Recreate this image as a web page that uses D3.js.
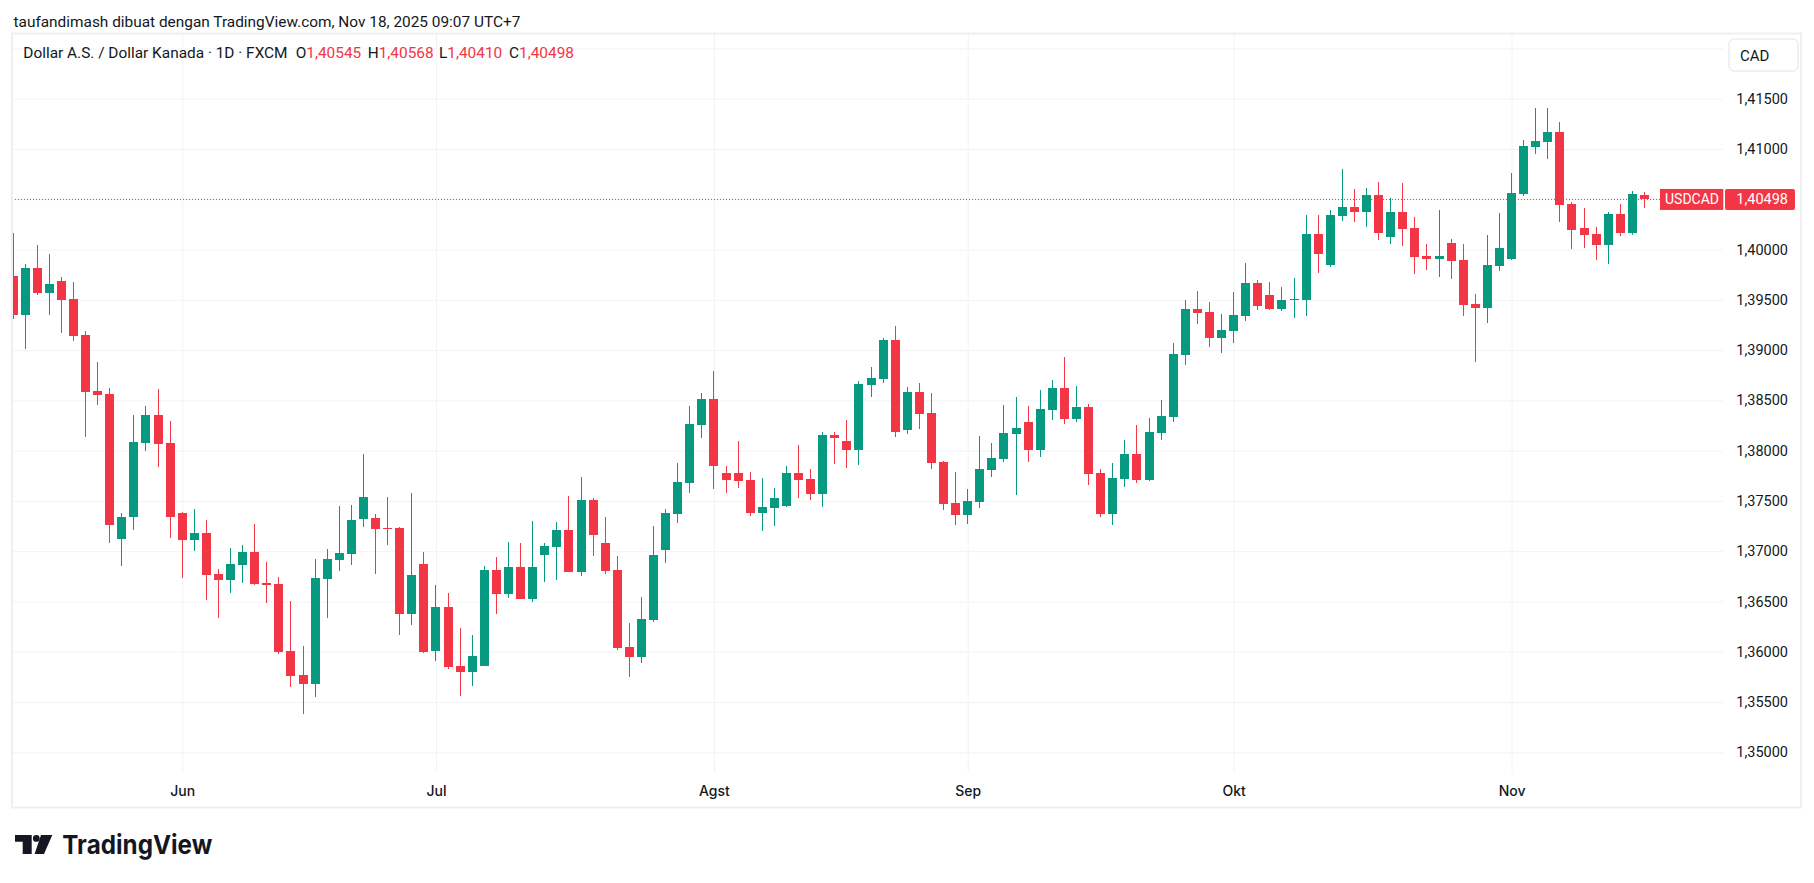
<!DOCTYPE html>
<html>
<head>
<meta charset="utf-8">
<script src="https://cdn.jsdelivr.net/npm/d3@7"></script>
<style>
  html, body { margin: 0; padding: 0; background: #ffffff; }
  svg { display: block; font-family: Roboto, "Noto Sans", sans-serif; }
</style>
</head>
<body>
<svg id="chart"></svg>
<script>
// ---- data: USD/CAD daily, FXCM ----
const dates = [
  "2025-05-13","2025-05-14","2025-05-15","2025-05-16","2025-05-19","2025-05-20","2025-05-21","2025-05-22","2025-05-23",
  "2025-05-26","2025-05-27","2025-05-28","2025-05-29","2025-05-30",
  "2025-06-02","2025-06-03","2025-06-04","2025-06-05","2025-06-06","2025-06-09","2025-06-10","2025-06-11","2025-06-12",
  "2025-06-13","2025-06-16","2025-06-17","2025-06-18","2025-06-19","2025-06-20","2025-06-23","2025-06-24","2025-06-25",
  "2025-06-26","2025-06-27","2025-06-30",
  "2025-07-01","2025-07-02","2025-07-03","2025-07-04","2025-07-07","2025-07-08","2025-07-09","2025-07-10","2025-07-11",
  "2025-07-14","2025-07-15","2025-07-16","2025-07-17","2025-07-18","2025-07-21","2025-07-22","2025-07-23","2025-07-24",
  "2025-07-25","2025-07-28","2025-07-29","2025-07-30","2025-07-31",
  "2025-08-01","2025-08-04","2025-08-05","2025-08-06","2025-08-07","2025-08-08","2025-08-11","2025-08-12","2025-08-13",
  "2025-08-14","2025-08-15","2025-08-18","2025-08-19","2025-08-20","2025-08-21","2025-08-22","2025-08-25","2025-08-26",
  "2025-08-27","2025-08-28","2025-08-29",
  "2025-09-01","2025-09-02","2025-09-03","2025-09-04","2025-09-05","2025-09-08","2025-09-09","2025-09-10","2025-09-11",
  "2025-09-12","2025-09-15","2025-09-16","2025-09-17","2025-09-18","2025-09-19","2025-09-22","2025-09-23","2025-09-24",
  "2025-09-25","2025-09-26","2025-09-29","2025-09-30",
  "2025-10-01","2025-10-02","2025-10-03","2025-10-06","2025-10-07","2025-10-08","2025-10-09","2025-10-10","2025-10-13",
  "2025-10-14","2025-10-15","2025-10-16","2025-10-17","2025-10-20","2025-10-21","2025-10-22","2025-10-23","2025-10-24",
  "2025-10-27","2025-10-28","2025-10-29","2025-10-30","2025-10-31",
  "2025-11-03","2025-11-04","2025-11-05","2025-11-06","2025-11-07","2025-11-10","2025-11-11","2025-11-12","2025-11-13",
  "2025-11-14","2025-11-17","2025-11-18"
];

const open = [
  1.39734,1.39346,1.39814,1.39568,1.39685,1.39505,1.39147,1.38589,1.38559,1.37125,
  1.37337,1.38071,1.38350,1.38071,1.37384,1.37115,1.37185,1.36776,1.36716,1.36866,
  1.36995,1.36687,1.36677,1.36009,1.35770,1.35681,1.36726,1.36916,1.36975,1.37324,
  1.37334,1.37234,1.37234,1.36378,1.36876,1.36009,1.36448,1.35860,1.35800,1.35860,
  1.36816,1.36577,1.36844,1.36525,1.36963,1.37043,1.37212,1.36794,1.37511,1.37083,
  1.36814,1.36047,1.35948,1.36316,1.37013,1.37372,1.37681,1.38258,1.38517,1.37780,
  1.37780,1.37710,1.37382,1.37432,1.37452,1.37780,1.37720,1.37571,1.38159,1.38099,
  1.38009,1.38657,1.38716,1.39105,1.38208,1.38587,1.38378,1.37890,1.37481,1.37362,
  1.37491,1.37810,1.37920,1.38169,1.38280,1.38011,1.38400,1.38619,1.38310,1.38430,
  1.37782,1.37374,1.37722,1.37971,1.37703,1.38171,1.38330,1.38948,1.39406,1.39376,
  1.39117,1.39187,1.39336,1.39665,1.39545,1.39406,1.39495,1.39495,1.40153,1.39844,
  1.40332,1.40422,1.40372,1.40541,1.40123,1.40372,1.40212,1.39934,1.39904,1.40063,
  1.39894,1.39456,1.39416,1.39834,1.39904,1.40548,1.41016,1.41066,1.41165,1.40448,
  1.40209,1.40159,1.40040,1.40349,1.40169,1.40545
];

const high = [
  1.40166,1.39857,1.40043,1.39954,1.39724,1.39675,1.39187,1.38878,1.38619,1.37384,
  1.38350,1.38440,1.38609,1.38290,1.37390,1.37424,1.37314,1.36826,1.37035,1.37065,
  1.37274,1.36896,1.36746,1.36507,1.36059,1.36926,1.37025,1.37454,1.37463,1.37971,
  1.37374,1.37543,1.37240,1.37583,1.36995,1.36667,1.36587,1.36238,1.36169,1.36856,
  1.36946,1.37095,1.37083,1.37302,1.37083,1.37292,1.37551,1.37740,1.37531,1.37342,
  1.36954,1.36286,1.36545,1.37252,1.37422,1.37880,1.38448,1.38577,1.38796,1.37850,
  1.38099,1.37790,1.37730,1.37631,1.37850,1.38059,1.37820,1.38189,1.38189,1.38308,
  1.38697,1.38836,1.39125,1.39244,1.38637,1.38677,1.38577,1.37900,1.37790,1.37621,
  1.38149,1.38079,1.38458,1.38537,1.38440,1.38599,1.38699,1.38928,1.38639,1.38459,
  1.37822,1.37872,1.38101,1.38250,1.38320,1.38499,1.39067,1.39495,1.39585,1.39475,
  1.39356,1.39575,1.39864,1.39695,1.39675,1.39625,1.39714,1.40342,1.40342,1.40392,
  1.40800,1.40601,1.40611,1.40671,1.40511,1.40661,1.40322,1.40053,1.40392,1.40103,
  1.40053,1.39555,1.40143,1.40362,1.40760,1.41086,1.41404,1.41404,1.41265,1.40468,
  1.40408,1.40219,1.40378,1.40448,1.40578,1.40568
];

const low = [
  1.39306,1.39007,1.39545,1.39346,1.39167,1.39087,1.38131,1.38450,1.37085,1.36856,
  1.37214,1.38001,1.37842,1.37135,1.36736,1.37005,1.36517,1.36338,1.36587,1.36687,
  1.36667,1.36487,1.35979,1.35651,1.35382,1.35551,1.36338,1.36806,1.36866,1.37244,
  1.36776,1.37065,1.36169,1.36268,1.35989,1.35910,1.35830,1.35561,1.35661,1.35855,
  1.36378,1.36537,1.36520,1.36495,1.36695,1.36714,1.36790,1.36754,1.36954,1.36774,
  1.36017,1.35748,1.35888,1.36296,1.36884,1.37282,1.37581,1.38129,1.37621,1.37581,
  1.37631,1.37352,1.37203,1.37252,1.37442,1.37531,1.37511,1.37442,1.37870,1.37830,
  1.37859,1.38537,1.38677,1.38139,1.38169,1.38218,1.37820,1.37412,1.37262,1.37272,
  1.37432,1.37740,1.37890,1.37561,1.37882,1.37932,1.38300,1.38260,1.38280,1.37663,
  1.37344,1.37264,1.37643,1.37683,1.37700,1.38101,1.38280,1.38848,1.39256,1.39027,
  1.38967,1.39067,1.39286,1.39396,1.39400,1.39386,1.39316,1.39336,1.39764,1.39824,
  1.40282,1.40272,1.40222,1.40093,1.40053,1.40033,1.39754,1.39794,1.39724,1.39705,
  1.39336,1.38878,1.39266,1.39784,1.39900,1.40528,1.40946,1.40896,1.40269,1.40010,
  1.40020,1.39900,1.39851,1.40139,1.40149,1.40410
];

const close = [
  1.39346,1.39814,1.39568,1.39655,1.39495,1.39137,1.38579,1.38549,1.37258,1.37344,
  1.38081,1.38350,1.38061,1.37337,1.37115,1.37185,1.36766,1.36716,1.36876,1.36995,
  1.36677,1.36667,1.35999,1.35760,1.35681,1.36736,1.36926,1.36985,1.37314,1.37543,
  1.37224,1.37224,1.36378,1.36766,1.35999,1.36448,1.35850,1.35800,1.35959,1.36816,
  1.36577,1.36846,1.36525,1.36844,1.37053,1.37212,1.36794,1.37511,1.37163,1.36804,
  1.36037,1.35948,1.36326,1.36963,1.37382,1.37691,1.38268,1.38517,1.37850,1.37710,
  1.37701,1.37382,1.37442,1.37531,1.37780,1.37710,1.37571,1.38159,1.38129,1.38009,
  1.38667,1.38726,1.39105,1.38189,1.38587,1.38368,1.37880,1.37471,1.37362,1.37501,
  1.37820,1.37930,1.38179,1.38228,1.38011,1.38410,1.38619,1.38310,1.38430,1.37772,
  1.37374,1.37732,1.37971,1.37703,1.38181,1.38340,1.38958,1.39406,1.39366,1.39117,
  1.39197,1.39346,1.39665,1.39436,1.39406,1.39495,1.39505,1.40153,1.39954,1.40342,
  1.40422,1.40372,1.40541,1.40163,1.40372,1.40203,1.39924,1.39904,1.39934,1.39884,
  1.39446,1.39416,1.39844,1.40013,1.40561,1.41026,1.41076,1.41165,1.40438,1.40199,
  1.40149,1.40040,1.40349,1.40169,1.40548,1.40498
];

const monthTicks = ["2025-06-02","2025-07-01","2025-08-01","2025-09-01","2025-10-01","2025-11-03"];
const monthLabels = ["Jun","Jul","Agst","Sep","Okt","Nov"];
const priceTicks = [1.350,1.355,1.360,1.365,1.370,1.375,1.380,1.385,1.390,1.395,1.400,1.405,1.410,1.415];
const gridTicks = [...priceTicks, 1.420];

// ---- layout ----
const W = 1814, H = 883;
const frame = { left: 12, top: 33.5, right: 1801, bottom: 807.5 };
const plotRight = 1723;
const plotBottom = 772.5;

const up = "#089981", down = "#f23645";
const textColor = "#131722";
const gridColor = "#f0f3f6";

const locale = d3.formatLocale({ decimal: ",", thousands: ".", grouping: [3], currency: ["", ""] });
const fmt = locale.format(".5f");

const svg = d3.select("#chart").attr("width", W).attr("height", H);
svg.append("rect").attr("width", W).attr("height", H).attr("fill", "#ffffff");

const x = d3.scalePoint().domain(dates).range([13.0, 1644.5]);
const y = d3.scaleLinear().domain([1.35, 1.42]).range([752.3, 48.4]);

/* -------------------------
   GRID
-------------------------- */
const gridY = svg.append("g")
  .attr("transform", `translate(${frame.left},0)`)
  .call(d3.axisLeft(y).tickValues(gridTicks).tickSize(-(plotRight - frame.left)).tickFormat(""));
gridY.select(".domain").remove();
gridY.selectAll("line").attr("stroke", gridColor).attr("stroke-width", 1);

const gridX = svg.append("g")
  .attr("transform", `translate(0,${plotBottom})`)
  .call(d3.axisBottom(x).tickValues(monthTicks).tickSize(-(plotBottom - frame.top)).tickFormat(""));
gridX.select(".domain").remove();
gridX.selectAll("line").attr("stroke", gridColor).attr("stroke-width", 1);

/* -------------------------
   CANDLES
-------------------------- */
svg.append("clipPath").attr("id", "plotClip")
  .append("rect")
  .attr("x", frame.left + 0.5).attr("y", frame.top)
  .attr("width", plotRight - frame.left - 0.5).attr("height", plotBottom - frame.top);

const bars = dates.map((d, i) => ({ date: d, o: open[i], h: high[i], l: low[i], c: close[i] }));
const colorOf = d => (d.c >= d.o ? up : down);

const candles = svg.append("g").attr("clip-path", "url(#plotClip)");

candles.selectAll("rect.wick")
  .data(bars)
  .join("rect")
  .attr("class", "wick")
  .attr("x", d => x(d.date) - 0.5)
  .attr("width", 1)
  .attr("y", d => y(d.h))
  .attr("height", d => Math.max(1, y(d.l) - y(d.h)))
  .attr("fill", colorOf)
  .attr("shape-rendering", "crispEdges");

candles.selectAll("rect.body")
  .data(bars)
  .join("rect")
  .attr("class", "body")
  .attr("x", d => x(d.date) - 4.5)
  .attr("width", 9)
  .attr("y", d => y(Math.max(d.o, d.c)))
  .attr("height", d => Math.max(1, Math.abs(y(d.o) - y(d.c))))
  .attr("fill", colorOf)
  .attr("shape-rendering", "crispEdges");

// last price line
const last = bars[bars.length - 1];
svg.append("line")
  .attr("x1", frame.left).attr("x2", plotRight)
  .attr("y1", y(last.c)).attr("y2", y(last.c))
  .attr("stroke", down)
  .attr("stroke-width", 1)
  .attr("stroke-dasharray", "1,2");

/* -------------------------
   AXES
-------------------------- */
const yAxis = svg.append("g")
  .attr("transform", "translate(1788,0)")
  .call(d3.axisRight(y).tickValues(priceTicks).tickSize(0).tickFormat(fmt));
yAxis.select(".domain").remove();
yAxis.selectAll("text")
  .attr("x", 0)
  .attr("text-anchor", "end")
  .attr("fill", textColor)
  .style("font-family", "Roboto, sans-serif")
  .style("font-size", "14.5px");

const xAxis = svg.append("g")
  .attr("transform", `translate(0,${plotBottom})`)
  .call(d3.axisBottom(x).tickValues(monthTicks).tickSize(0)
    .tickFormat(d => monthLabels[monthTicks.indexOf(d)]));
xAxis.select(".domain").remove();
xAxis.selectAll("text")
  .attr("y", 23.3)
  .attr("dy", 0)
  .attr("fill", textColor)
  .style("font-family", "Inter, Roboto, sans-serif")
  .style("font-weight", 500)
  .style("font-size", "14px");

// currency box
svg.append("rect")
  .attr("x", 1729).attr("y", 39).attr("width", 69).attr("height", 32).attr("rx", 5)
  .attr("fill", "#ffffff").attr("stroke", "#e0e3eb").attr("stroke-width", 1);
svg.append("text")
  .attr("x", 1740).attr("y", 60.5)
  .attr("fill", textColor).style("font-size", "15px")
  .text("CAD");

// last price labels
const ly = y(last.c);
svg.append("rect")
  .attr("x", 1660).attr("y", ly - 10.5).attr("width", 63.3).attr("height", 21)
  .attr("fill", down);
svg.append("text")
  .attr("x", 1692).attr("y", ly + 5)
  .attr("text-anchor", "middle").attr("fill", "#ffffff").style("font-size", "14px")
  .text("USDCAD");
svg.append("rect")
  .attr("x", 1725).attr("y", ly - 10.5).attr("width", 70).attr("height", 21).attr("rx", 2)
  .attr("fill", down);
svg.append("text")
  .attr("x", 1788).attr("y", ly + 5)
  .attr("text-anchor", "end").attr("fill", "#ffffff").style("font-size", "14.5px")
  .text(fmt(last.c));

// frame
svg.append("rect")
  .attr("x", frame.left).attr("y", frame.top)
  .attr("width", frame.right - frame.left).attr("height", frame.bottom - frame.top)
  .attr("fill", "none").attr("stroke", "#eeeff1").attr("stroke-width", 2);

/* -------------------------
   TEXT: HEADER + LEGEND
-------------------------- */
svg.append("text")
  .attr("x", 13.5).attr("y", 26.5)
  .attr("fill", textColor).style("font-size", "15.4px")
  .text("taufandimash dibuat dengan TradingView.com, Nov 18, 2025 09:07 UTC+7");

const legend = svg.append("g").style("font-size", "15.4px");
legend.append("text").attr("x", 23.3).attr("y", 58.3).attr("fill", textColor)
  .text("Dollar A.S. / Dollar Kanada · 1D · FXCM");
const ohlc = [["O", last.o, 295.7], ["H", last.h, 367.7], ["L", last.l, 439], ["C", last.c, 509]];
ohlc.forEach(([k, v, px]) => {
  const t = legend.append("text").attr("x", px).attr("y", 58.3);
  t.append("tspan").attr("fill", textColor).text(k);
  t.append("tspan").attr("fill", down).text(fmt(v));
});

/* -------------------------
   LOGO
-------------------------- */
const logo = svg.append("g").attr("fill", "#131722");
logo.append("path").attr("d", "M15,835 H31.7 V854 H22.7 V841.7 H15 Z");
logo.append("circle").attr("cx", 36.3).attr("cy", 838.4).attr("r", 3.4);
logo.append("path").attr("d", "M41,835 H52.3 L44,854 H34.6 Z");
logo.append("text")
  .attr("x", 62.3).attr("y", 854)
  .attr("textLength", 150).attr("lengthAdjust", "spacingAndGlyphs")
  .style("font-family", "Inter, Roboto, sans-serif")
  .style("font-weight", 700)
  .style("font-size", "26px")
  .text("TradingView");
</script>
</body>
</html>
